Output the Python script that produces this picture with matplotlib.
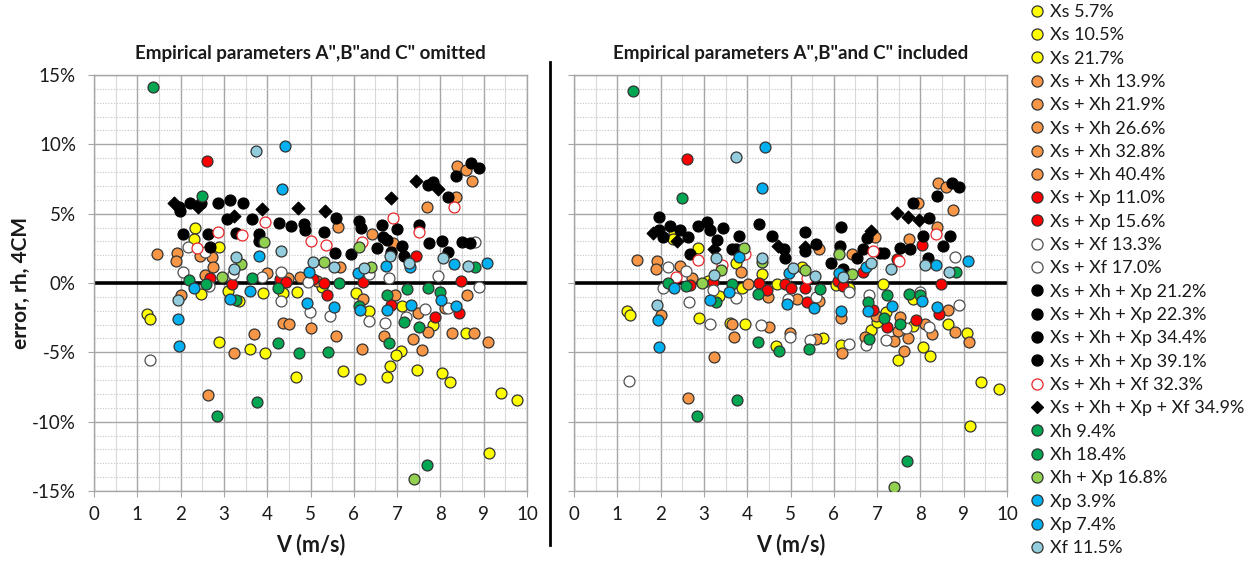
import matplotlib
matplotlib.use("Agg")
import matplotlib.pyplot as plt
from matplotlib.lines import Line2D
from matplotlib.ticker import MultipleLocator, FuncFormatter

plt.rcParams['font.family'] = ['Lato', 'DejaVu Sans']

# ---- wind speed V (m/s) vs. relative error (%) per material group ----
# Panel 1: empirical parameters omitted
xs_omit = [(1.22, -2.24), (1.29, -2.6), (2.33, 3.99), (2.32, 3.15), (2.89, 2.62), (2.46, -0.79),
           (3.10, -0.58), (3.36, -1.3), (3.91, -0.74), (4.37, -0.74), (4.68, -0.62), (2.89, -4.25),
           (3.60, -4.78), (3.95, -5.02), (4.67, -6.8), (5.26, -0.26), (6.05, -0.74), (7.11, -1.68),
           (6.36, -2.0), (7.84, -3.03), (8.59, -3.63), (7.09, -4.88), (6.97, -5.19), (6.84, -5.96),
           (6.76, -6.8), (5.76, -6.32), (6.14, -6.94), (7.47, -6.27), (8.04, -6.51), (8.22, -7.16),
           (9.39, -7.95), (9.78, -8.44), (9.12, -12.28)]
xs_xh_omit = [(1.46, 2.09), (1.91, 2.19), (1.89, 1.59), (2.45, 1.95), (2.72, 1.85), (2.74, 1.18),
              (2.56, 0.58), (3.99, 0.70), (4.49, 0.38), (4.76, 0.45), (2.02, -0.86), (5.16, 0.14),
              (3.24, -5.07), (3.70, -3.68), (4.36, -2.91), (4.51, -2.96), (5.02, -3.24), (2.64, -8.07),
              (8.39, 8.46), (8.58, 8.15), (8.74, 7.35), (8.37, 6.22), (7.70, 5.46), (5.64, 4.02),
              (6.41, 3.51), (6.91, 2.91), (5.67, 1.18), (6.96, -0.9), (8.62, -0.87), (6.22, -1.15),
              (7.49, -2.14), (8.11, -1.82), (5.59, -3.8), (6.70, -3.8), (7.37, -4.06), (7.71, -3.56),
              (8.26, -3.58), (8.78, -3.58), (9.09, -4.27), (6.20, -4.78), (7.58, -4.83)]
xs_xp_omit = [(2.60, 8.8), (2.68, 0.34), (3.18, -0.1), (4.30, 0.30), (4.43, 0.05), (5.05, 0.27),
              (7.44, 1.95), (8.47, 0.17), (5.32, 0.02), (6.22, 0.09), (5.37, -0.87), (6.87, -1.59),
              (7.88, -2.43), (8.43, -2.14)]
xs_xf_omit = [(2.16, 2.57), (2.56, 2.26), (2.06, 0.82), (3.22, 0.62), (3.87, 0.45), (4.32, 0.77),
              (4.95, 0.05), (2.66, -0.19), (4.32, -1.3), (1.29, -5.55), (4.99, -2.07), (8.80, 2.98),
              (7.95, 0.5), (6.81, 0.34), (6.34, 0.65), (8.88, -0.26), (5.45, -2.38), (6.36, -2.72),
              (6.72, -2.91), (7.21, -2.47), (7.64, -1.87), (8.18, -1.78)]
xs_xh_xp_omit = [(1.97, 5.46), (1.99, 5.2), (2.22, 5.75), (2.46, 5.75), (2.86, 5.77), (3.14, 5.96),
                 (3.45, 5.77), (3.08, 4.59), (3.66, 4.64), (4.28, 4.3), (4.56, 4.09), (4.85, 4.25),
                 (4.87, 3.82), (2.06, 3.53), (2.64, 3.53), (2.69, 2.62), (3.29, 3.58), (3.81, 3.53),
                 (3.81, 3.05), (8.71, 8.67), (8.89, 8.31), (8.35, 7.71), (8.18, 6.22), (7.72, 7.04),
                 (7.84, 7.28), (5.60, 4.71), (5.32, 3.65), (6.13, 4.49), (6.16, 3.99), (6.64, 4.18),
                 (6.99, 3.87), (6.67, 3.29), (6.76, 3.1), (7.50, 4.18), (7.74, 2.86), (8.03, 3.03),
                 (8.51, 2.93), (8.68, 2.86), (5.57, 2.19), (5.93, 2.07), (6.54, 2.5), (6.86, 2.26),
                 (7.11, 2.69), (7.16, 1.95), (8.18, 2.21)]
xs_xh_xf_omit = [(2.37, 2.5), (2.87, 3.70), (3.41, 3.46), (3.95, 4.42), (5.0, 3.05), (5.36, 2.74),
                 (6.18, 2.98), (6.90, 4.71), (7.50, 3.70), (8.32, 5.5)]
xs_xh_xp_xf_omit = [(1.85, 5.8), (2.41, 5.46), (3.24, 4.85), (3.87, 5.31), (4.71, 5.38), (5.33, 5.21),
                    (6.85, 6.15), (7.44, 7.38), (7.95, 6.8)]
xh_omit = [(1.36, 14.1), (2.50, 6.27), (2.19, 0.22), (2.58, -0.07), (3.66, 0.34), (4.24, -0.38),
           (3.29, -1.23), (4.26, -4.35), (4.73, -5.07), (3.77, -8.6), (2.83, -9.56), (8.80, 1.13),
           (5.66, 0.02), (6.13, -1.64), (6.76, -0.87), (7.22, -0.43), (7.72, -0.38), (7.99, -0.63),
           (7.17, -2.83), (7.51, -3.2), (6.81, -4.3), (5.41, -4.95), (7.68, -13.1)]
xh_xp_omit = [(2.96, 0.41), (3.39, 1.37), (3.93, 2.98), (5.32, 1.54), (6.12, 2.62), (6.40, 1.18),
              (7.39, -14.15)]
xp_omit = [(4.41, 9.9), (4.34, 6.75), (3.81, 1.95), (4.97, 0.82), (2.32, -0.38), (3.14, -1.15),
           (3.60, -0.55), (4.91, -1.47), (1.93, -2.62), (1.97, -4.52), (9.08, 1.44), (8.32, 1.35),
           (6.74, 1.25), (6.09, 0.70), (7.30, 1.18), (5.55, -1.71), (6.14, -1.95), (6.77, -1.95),
           (7.33, -1.59), (8.01, -1.23), (8.37, -1.64)]
xf_omit = [(3.73, 9.52), (3.27, 1.9), (3.24, 1.0), (4.31, 2.3), (5.05, 1.55), (1.93, -1.23),
           (6.84, 1.97), (8.07, 1.78), (7.28, 1.47), (8.64, 1.25), (6.24, 1.06), (5.55, 1.18)]

# Panel 2: empirical parameters included
xs_incl = [(1.22, -2.0), (1.29, -2.31), (2.31, 3.67), (2.29, 3.14), (2.87, 2.55), (3.73, 1.47),
           (4.35, 0.63), (3.10, 0.14), (3.36, -0.94), (3.89, -0.34), (4.68, -0.1), (2.89, -2.55),
           (3.60, -2.86), (3.95, -2.98), (4.66, -4.54), (5.26, 1.18), (6.05, -0.17), (7.13, -0.05),
           (6.36, -0.34), (7.82, -1.18), (5.76, -3.94), (6.16, -4.5), (6.85, -3.41), (6.99, -2.79),
           (7.20, -2.07), (7.84, -3.1), (8.63, -2.93), (9.08, -3.58), (7.49, -5.55), (8.05, -4.61),
           (8.23, -5.26), (9.41, -7.14), (9.81, -7.62), (9.14, -10.31)]
xs_xh_incl = [(1.46, 1.63), (1.91, 1.58), (1.89, 0.98), (2.45, 1.2), (2.72, 0.38), (3.86, 0.82),
              (4.01, -0.1), (4.49, -0.99), (5.15, -1.18), (2.02, -2.31), (3.24, -5.33), (3.70, -3.89),
              (3.66, -2.98), (4.51, -3.17), (2.64, -8.32), (4.99, -3.58), (8.41, 7.19), (8.59, 6.94),
              (8.75, 5.24), (7.95, 5.74), (8.39, 4.06), (7.74, 3.19), (5.66, 2.43), (6.95, 3.31),
              (6.43, 2.07), (5.66, -1.3), (6.16, -2.5), (6.98, -2.38), (7.52, -2.45), (7.49, -3.46),
              (7.72, -3.94), (8.10, -2.93), (8.27, -3.65), (8.64, -1.95), (8.81, -3.5), (9.13, -4.23),
              (5.60, -4.01), (6.20, -5.02), (6.72, -3.87), (7.39, -4.18), (7.61, -4.9)]
xs_xp_incl = [(2.60, 8.92), (2.68, -0.14), (3.20, 0.1), (4.28, -0.02), (4.45, -0.5), (4.87, -0.1),
              (5.00, -0.34), (8.04, 2.75), (7.45, 1.75), (6.68, 0.82), (8.48, -0.1), (5.33, -0.34),
              (6.10, 0.14), (6.22, -0.22), (5.37, -1.37), (6.91, -1.95), (7.24, -3.15), (7.90, -2.67),
              (8.44, -2.26)]
xs_xf_incl = [(2.16, 1.18), (2.59, 0.87), (2.05, -0.34), (3.20, -0.53), (3.73, -1.08), (2.66, -1.37),
              (4.95, -1.18), (1.28, -7.06), (3.13, -2.98), (4.33, -3.05), (4.99, -3.87), (8.80, 1.87),
              (8.89, -1.6), (6.81, -0.84), (7.98, -0.67), (6.36, -0.67), (5.58, -1.01), (5.45, -4.13),
              (6.36, -4.42), (6.74, -4.47), (7.20, -4.13), (7.67, -3.27), (8.21, -3.17)]
xs_xh_xp_incl = [(1.97, 4.76), (2.22, 4.11), (1.97, 3.79), (2.06, 3.31), (2.45, 3.79), (2.64, 3.31),
                 (2.86, 4.11), (3.08, 4.4), (3.14, 3.82), (3.45, 3.99), (3.30, 3.1), (3.81, 3.39),
                 (3.66, 2.43), (3.75, 2.43), (4.28, 4.23), (4.57, 3.39), (4.86, 2.43), (4.87, 1.78),
                 (2.69, 2.11), (8.72, 7.24), (8.90, 6.92), (8.38, 6.27), (7.84, 5.74), (8.21, 4.71),
                 (8.07, 3.39), (8.68, 3.39), (8.53, 2.67), (5.33, 3.67), (5.33, 2.31), (6.16, 4.04),
                 (6.14, 2.67), (5.60, 2.84), (6.76, 3.27), (6.67, 2.43), (6.53, 1.83), (7.17, 2.19),
                 (7.07, 2.19), (7.53, 2.55), (7.76, 2.48), (8.18, 1.83), (5.93, 1.47), (6.22, 0.99)]
xs_xh_xf_incl = [(2.36, 0.43), (2.87, 1.63), (3.41, 1.27), (3.96, 2.07), (5.37, 0.38), (6.91, 2.31),
                 (7.51, 1.6), (8.36, 3.55)]
xs_xh_xp_xf_incl = [(1.83, 3.58), (2.39, 3.03), (3.24, 2.43), (4.70, 2.67), (5.33, 2.59), (6.87, 3.75),
                    (7.45, 5.07), (7.72, 4.76), (7.97, 4.54)]
xh_incl = [(1.36, 13.84), (2.50, 6.1), (2.18, -0.02), (2.59, -0.22), (3.66, -0.05), (4.26, -0.82),
           (3.29, -1.37), (4.26, -4.23), (4.73, -4.9), (3.77, -8.46), (2.83, -9.59), (8.82, 0.82),
           (5.67, -0.43), (7.24, -0.84), (7.74, -0.8), (7.99, -0.84), (6.78, -1.34), (5.43, -4.73),
           (6.81, -4.06), (7.17, -2.55), (7.52, -2.93), (7.70, -12.83)]
xh_xp_incl = [(2.95, -0.02), (3.39, 0.91), (3.93, 2.55), (4.34, 1.51), (5.33, 0.96), (6.13, 2.12),
              (6.41, 0.63), (7.40, -14.71)]
xp_incl = [(4.41, 9.83), (4.35, 6.83), (3.81, 1.87), (4.97, 0.69), (2.31, -0.38), (3.14, -1.2),
           (3.59, -0.63), (4.91, -1.54), (1.93, -2.69), (1.97, -4.61), (9.10, 1.6), (8.35, 1.27),
           (6.74, 1.18), (6.13, 0.75), (5.55, -1.78), (6.16, -2.02), (6.78, -2.02), (7.35, -1.66),
           (8.03, -1.3), (8.39, -1.73)]
xf_incl = [(3.74, 9.1), (3.27, 1.8), (3.23, 0.6), (4.35, 1.8), (5.05, 1.1), (1.92, -1.59),
           (6.85, 1.47), (7.33, 1.03), (8.11, 1.3), (8.67, 0.82), (6.22, 0.46), (5.57, 0.5)]

# legend entries (label, group)
legend_labels = ["Xs 5.7%", "Xs 10.5%", "Xs 21.7%",
                 "Xs + Xh 13.9%", "Xs + Xh 21.9%", "Xs + Xh 26.6%", "Xs + Xh 32.8%", "Xs + Xh 40.4%",
                 "Xs + Xp 11.0%", "Xs + Xp 15.6%",
                 "Xs + Xf 13.3%", "Xs + Xf 17.0%",
                 "Xs + Xh + Xp 21.2%", "Xs + Xh + Xp 22.3%", "Xs + Xh + Xp 34.4%", "Xs + Xh + Xp 39.1%",
                 "Xs + Xh + Xf 32.3%", "Xs + Xh + Xp + Xf 34.9%",
                 "Xh 9.4%", "Xh 18.4%", "Xh + Xp 16.8%", "Xp 3.9%", "Xp 7.4%", "Xf 11.5%"]
legend_groups = ["xs", "xs", "xs", "xs_xh", "xs_xh", "xs_xh", "xs_xh", "xs_xh", "xs_xp", "xs_xp",
                 "xs_xf", "xs_xf", "xs_xh_xp", "xs_xh_xp", "xs_xh_xp", "xs_xh_xp", "xs_xh_xf",
                 "xs_xh_xp_xf", "xh", "xh", "xh_xp", "xp", "xp", "xf"]

EDGE = "#333333"
styles = {
    "xs":          dict(marker="o", fc="#FFFF00", ec=EDGE),
    "xs_xh":       dict(marker="o", fc="#F79646", ec=EDGE),
    "xs_xp":       dict(marker="o", fc="#FF0000", ec=EDGE),
    "xs_xf":       dict(marker="o", fc="#FFFFFF", ec="#505050"),
    "xs_xh_xp":    dict(marker="o", fc="#000000", ec="#000000"),
    "xs_xh_xf":    dict(marker="o", fc="#FFFFFF", ec="#E8262A"),
    "xs_xh_xp_xf": dict(marker="D", fc="#000000", ec="#000000"),
    "xh":          dict(marker="o", fc="#00A651", ec=EDGE),
    "xh_xp":       dict(marker="o", fc="#92D050", ec=EDGE),
    "xp":          dict(marker="o", fc="#00B0F0", ec=EDGE),
    "xf":          dict(marker="o", fc="#93CDDD", ec=EDGE),
}
order = ["xs", "xs_xh", "xs_xp", "xs_xf", "xs_xh_xp", "xs_xh_xf", "xs_xh_xp_xf",
         "xh", "xh_xp", "xp", "xf"]
omit_data = dict(xs=xs_omit, xs_xh=xs_xh_omit, xs_xp=xs_xp_omit, xs_xf=xs_xf_omit,
                 xs_xh_xp=xs_xh_xp_omit, xs_xh_xf=xs_xh_xf_omit, xs_xh_xp_xf=xs_xh_xp_xf_omit,
                 xh=xh_omit, xh_xp=xh_xp_omit, xp=xp_omit, xf=xf_omit)
incl_data = dict(xs=xs_incl, xs_xh=xs_xh_incl, xs_xp=xs_xp_incl, xs_xf=xs_xf_incl,
                 xs_xh_xp=xs_xh_xp_incl, xs_xh_xf=xs_xh_xf_incl, xs_xh_xp_xf=xs_xh_xp_xf_incl,
                 xh=xh_incl, xh_xp=xh_xp_incl, xp=xp_incl, xf=xf_incl)

W, H = 1257, 562
fig = plt.figure(figsize=(W / 100, H / 100), dpi=100)
fig.patch.set_facecolor("white")


def px_axes(x0, x1, ytop, ybot):
    return fig.add_axes([x0 / W, 1 - ybot / H, (x1 - x0) / W, (ybot - ytop) / H])


def draw_panel(ax, data, show_y_labels):
    ax.set_xlim(0, 10)
    ax.set_ylim(-15, 15)
    ax.xaxis.set_major_locator(MultipleLocator(1))
    ax.xaxis.set_minor_locator(MultipleLocator(0.5))
    ax.yaxis.set_major_locator(MultipleLocator(5))
    ax.yaxis.set_minor_locator(MultipleLocator(1))
    ax.yaxis.set_major_formatter(FuncFormatter(lambda v, p: f"{int(round(v))}%"))
    ax.grid(which="major", color="#a6a6a6", lw=1.0)
    ax.grid(which="minor", axis="x", color="#d9d9d9", lw=0.8)
    ax.grid(which="minor", axis="y", color="#c4c4c4", lw=0.8, ls=(0, (1, 1.5)))
    ax.set_axisbelow(True)
    for s in ax.spines.values():
        s.set_color("#a6a6a6")
        s.set_linewidth(1.0)
    ax.tick_params(which="major", length=4, color="#a6a6a6", labelsize=13.5,
                   labelcolor="#1a1a1a")
    ax.tick_params(axis="x", which="major", pad=7)
    ax.tick_params(axis="y", which="major", pad=9, labelleft=show_y_labels)
    ax.tick_params(which="minor", length=0)
    ax.axhline(0, color="black", lw=2.6, zorder=2)
    for key in order:
        st = styles[key]
        pts = data[key]
        v = [p[0] for p in pts]
        e = [p[1] for p in pts]
        size = 42 if st["marker"] == "D" else 62
        ax.scatter(v, e, s=size, marker=st["marker"], facecolor=st["fc"],
                   edgecolor=st["ec"], linewidth=0.9, zorder=3)


ax_l = px_axes(94, 527, 75, 491)
ax_r = px_axes(574, 1007, 75, 491)
draw_panel(ax_l, omit_data, True)
draw_panel(ax_r, incl_data, False)

fig.text((94 + 527) / 2 / W, 1 - 54 / H, 'Empirical parameters A",B"and C" omitted',
         ha="center", va="center", fontsize=13.5, fontweight="bold", color="#1a1a1a")
fig.text((574 + 1007) / 2 / W, 1 - 54 / H, 'Empirical parameters A",B"and C" included',
         ha="center", va="center", fontsize=13.5, fontweight="bold", color="#1a1a1a")
for xc in ((94 + 527) / 2, (574 + 1007) / 2):
    fig.text(xc / W, 1 - 545 / H, "V (m/s)", ha="center", va="center",
             fontsize=15.5, fontweight="bold", color="#1a1a1a")
fig.text(21 / W, 1 - 283 / H, "error, rh, 4CM", ha="center", va="center", rotation=90,
         fontsize=15, fontweight="bold", color="#1a1a1a")

# divider between panels
fig.add_artist(Line2D([550 / W, 550 / W], [1 - 62 / H, 1 - 545 / H], color="black", lw=2))

handles = []
for g in legend_groups:
    st = styles[g]
    ms = 6.5 if st["marker"] == "D" else 8
    handles.append(Line2D([], [], ls="none", marker=st["marker"], markersize=ms,
                          markerfacecolor=st["fc"], markeredgecolor=st["ec"], markeredgewidth=0.9))
fig.legend(handles, legend_labels, loc="upper left", bbox_to_anchor=(1029 / W, 1 - 4 / H),
           frameon=False, fontsize=13, handlelength=0.9, handletextpad=0.25,
           labelspacing=0.405, borderpad=0, borderaxespad=0, labelcolor="#1a1a1a")

fig.savefig("out.png", dpi=100)
